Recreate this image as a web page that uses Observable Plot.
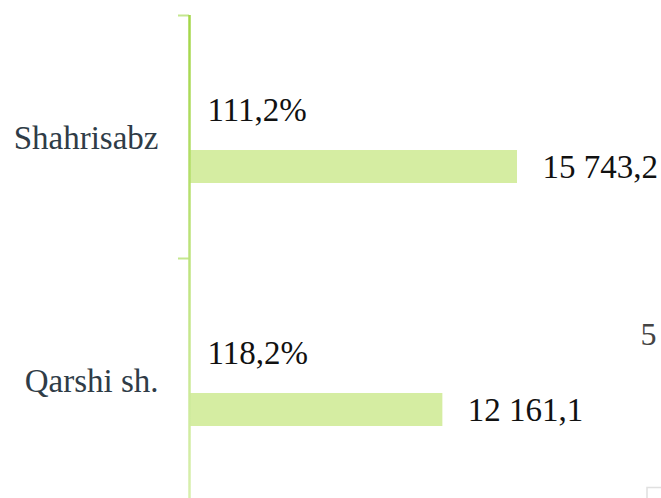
<!DOCTYPE html>
<html>
<head>
<meta charset="utf-8">
<script src="https://cdn.jsdelivr.net/npm/d3@7"></script>
<script src="https://cdn.jsdelivr.net/npm/@observablehq/plot@0.6"></script>
<style>
  html, body { margin: 0; padding: 0; background: #fff; }
  #chart { width: 661px; height: 498px; overflow: hidden; }
  #chart svg text { font-family: "Liberation Serif", "DejaVu Serif", serif; }
</style>
</head>
<body>
<div id="chart"></div>
<script>
const categories = ["Shahrisabz", "Qarshi sh."];
const values = [15743.2, 12161.1];
const valueLabels = ["15 743,2", "12 161,1"];
const percentLabels = ["111,2%", "118,2%"];
const strayLabels = ["5"];

const data = categories.map((c, i) => ({
  category: c,
  value: values[i],
  valueLabel: valueLabels[i],
  percent: percentLabels[i]
}));

const font = "Liberation Serif";
const fs = 33;

const chart = Plot.plot({
  width: 661,
  height: 498,
  marginLeft: 189,
  marginRight: 0,
  marginTop: 15,
  marginBottom: -3,
  style: { fontFamily: font, background: "#fff", overflow: "visible" },
  x: { domain: [0, 22655], axis: null },
  y: { domain: categories, padding: 0, axis: null },
  marks: [
    Plot.barX(data, {
      x: "value", y: "category",
      fill: "#d5eda2",
      insetTop: 135, insetBottom: 75
    }),
    Plot.ruleY(data, {
      y: "category", dy: -121.5, x1: -528, x2: 0,
      stroke: "#c4e78f", strokeWidth: 2
    }),
    Plot.ruleX([0], {
      stroke: "url(#axisGrad)", strokeWidth: 2.5
    }),
    Plot.text(data, {
      x: 0, y: "category", text: "category",
      dx: -31, dy: 1, textAnchor: "end", fontSize: fs, fill: "#2f3c47"
    }),
    Plot.text(data, {
      x: 0, y: "category", text: "percent",
      dx: 18, dy: -26.5, textAnchor: "start", fontSize: fs, fill: "#111"
    }),
    Plot.text(data, {
      x: "value", y: "category", text: "valueLabel",
      dx: 25, dy: 30.5, textAnchor: "start", fontSize: fs, fill: "#111"
    }),
    Plot.text(strayLabels, {
      text: d => d, frameAnchor: "right", dx: -5, dy: 76,
      textAnchor: "end", fontSize: 32, fill: "#444"
    })
  ]
});

const ns = "http://www.w3.org/2000/svg";
const defs = document.createElementNS(ns, "defs");
defs.innerHTML = `<linearGradient id="axisGrad" gradientUnits="userSpaceOnUse" x1="0" y1="15" x2="0" y2="498">
  <stop offset="0" stop-color="#a3d647"/>
  <stop offset="0.5" stop-color="#bde37c"/>
  <stop offset="1" stop-color="#d8efae"/>
</linearGradient>`;
chart.insertBefore(defs, chart.firstChild);

const corner = document.createElementNS(ns, "path");
corner.setAttribute("d", "M647,498 V487.5 H661");
corner.setAttribute("fill", "none");
corner.setAttribute("stroke", "#e0e0e0");
corner.setAttribute("stroke-width", "1.5");
chart.appendChild(corner);

document.getElementById("chart").appendChild(chart);
</script>
</body>
</html>
